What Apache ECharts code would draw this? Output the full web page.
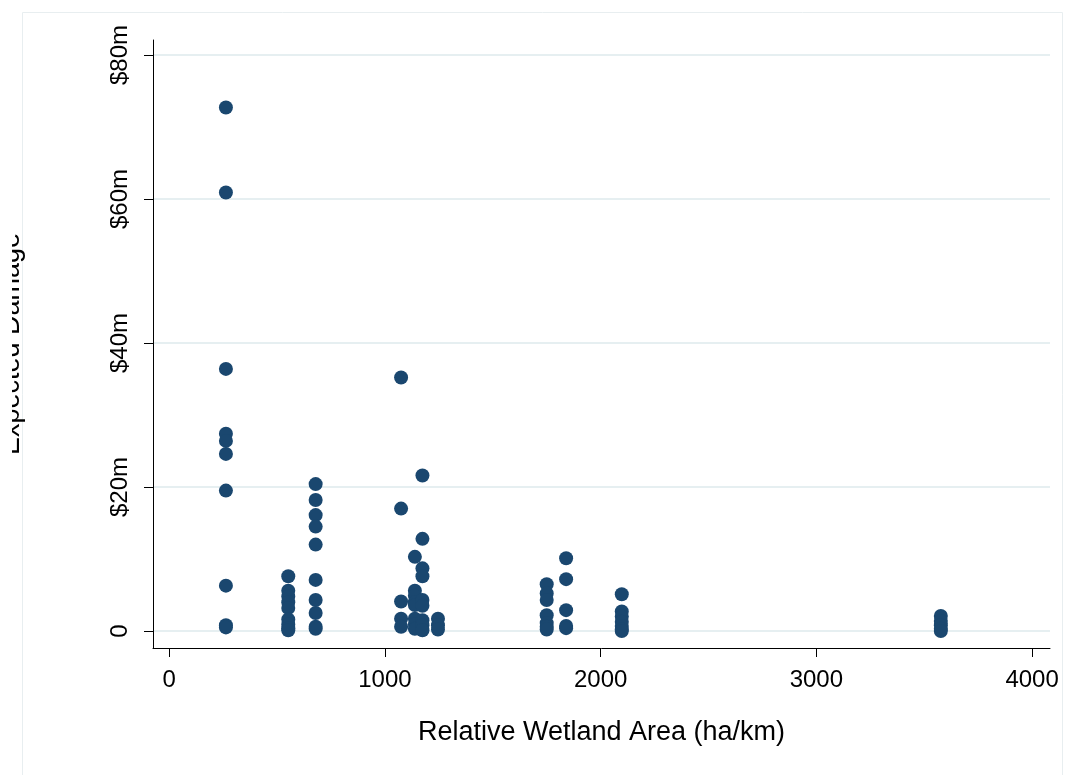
<!DOCTYPE html>
<html>
<head>
<meta charset="utf-8">
<script src="https://cdn.jsdelivr.net/npm/echarts@6/dist/echarts.min.js"></script>
<style>
html,body{margin:0;padding:0;background:#fff;}
#chart{width:1065px;height:775px;}
</style>
</head>
<body>
<div id="chart"></div>
<script>
// Relative wetland area (ha/km) of each column of points
const clusterX = [263, 552, 679, 1075, 1139, 1174, 1246, 1750, 1840, 2098, 3577];
// Expected damage ($m) of the points in each column
const clusterY = [
  [72.7, 60.9, 36.4, 27.4, 26.4, 24.6, 19.5, 6.3, 0.8, 0.5],
  [7.6, 5.6, 4.8, 4.0, 3.2, 1.6, 0.9, 0.4, 0.1],
  [20.4, 18.2, 16.1, 14.5, 12.0, 7.1, 4.3, 2.5, 0.6, 0.3],
  [35.2, 17.0, 4.1, 1.7, 0.6],
  [10.3, 5.6, 4.9, 4.0, 3.6, 1.7, 0.9, 0.3],
  [21.6, 12.8, 8.7, 7.6, 4.3, 3.5, 1.5, 0.8, 0.1],
  [1.7, 0.8, 0.2],
  [6.5, 5.2, 4.3, 2.2, 1.1, 0.6, 0.2],
  [10.1, 7.2, 2.9, 0.7, 0.4],
  [5.1, 2.7, 2.0, 1.3, 0.7, 0.2, 0.0],
  [2.1, 1.4, 0.8, 0.3, 0.0]
];
const xTicks = [0, 1000, 2000, 3000, 4000];
const yTicks = [0, 20, 40, 60, 80];
const yTickLabels = ['0', '$20m', '$40m', '$60m', '$80m'];

const points = [];
clusterX.forEach((x, i) => clusterY[i].forEach(y => points.push([x, y])));

const FONT = '"Liberation Sans", Arial, sans-serif';
const chart = echarts.init(document.getElementById('chart'), null, {renderer: 'canvas'});
chart.setOption({
  backgroundColor: '#ffffff',
  animation: false,
  grid: [
    {left: 153, right: 15, top: 40, bottom: 127, containLabel: false, outerBoundsMode: 'none'},
    {left: 153, right: 15, top: 55, bottom: 144, containLabel: false, outerBoundsMode: 'none'}
  ],
  xAxis: [
    {
      type: 'value', gridIndex: 0, min: -75, max: 4083,
      name: 'Relative Wetland Area (ha/km)', nameLocation: 'middle', nameGap: 71,
      nameTextStyle: {fontFamily: FONT, fontSize: 27, color: '#000'},
      axisLine: {show: true, onZero: false, lineStyle: {color: '#000', width: 1}},
      axisTick: {show: true, length: 9, customValues: xTicks, lineStyle: {color: '#000'}},
      axisLabel: {customValues: xTicks, margin: 20, fontFamily: FONT, fontSize: 24, color: '#000',
        formatter: v => String(v)},
      splitLine: {show: false}
    },
    {
      type: 'value', gridIndex: 1, min: 0, max: 1, show: false
    }
  ],
  yAxis: [
    {
      type: 'value', gridIndex: 0, min: -2.36, max: 82.08,
      name: 'Expected Damage', nameLocation: 'middle', nameGap: 128, nameRotate: 90,
      nameTextStyle: {fontFamily: FONT, fontSize: 27, color: '#000'},
      axisLine: {show: true, onZero: false, lineStyle: {color: '#000', width: 1}},
      axisTick: {show: true, length: 9, customValues: yTicks, lineStyle: {color: '#000'}},
      axisLabel: {
        customValues: yTicks, rotate: 90, margin: 21, fontFamily: FONT, fontSize: 24, color: '#000',
        formatter: v => yTickLabels[yTicks.indexOf(v)]
      },
      splitLine: {show: false}
    },
    {
      type: 'value', gridIndex: 1, min: 0, max: 80, interval: 20,
      axisLine: {show: false}, axisTick: {show: false}, axisLabel: {show: false},
      splitLine: {show: true, lineStyle: {color: '#e6eff1', width: 2}}
    }
  ],
  series: [{
    type: 'scatter', xAxisIndex: 0, yAxisIndex: 0,
    data: points, symbol: 'circle', symbolSize: 14,
    itemStyle: {color: '#1a476f', opacity: 1},
    z: 5
  }],
  graphic: [
    {type: 'rect', left: 0, top: 0, shape: {x: 0, y: 0, width: 12, height: 775},
     style: {fill: '#ffffff'}, z: 100},
    {type: 'rect', shape: {x: 22.5, y: 12.5, width: 1040, height: 800},
     style: {fill: 'none', stroke: '#e8eef0', lineWidth: 1}, z: -1, silent: true}
  ]
});
</script>
</body>
</html>
